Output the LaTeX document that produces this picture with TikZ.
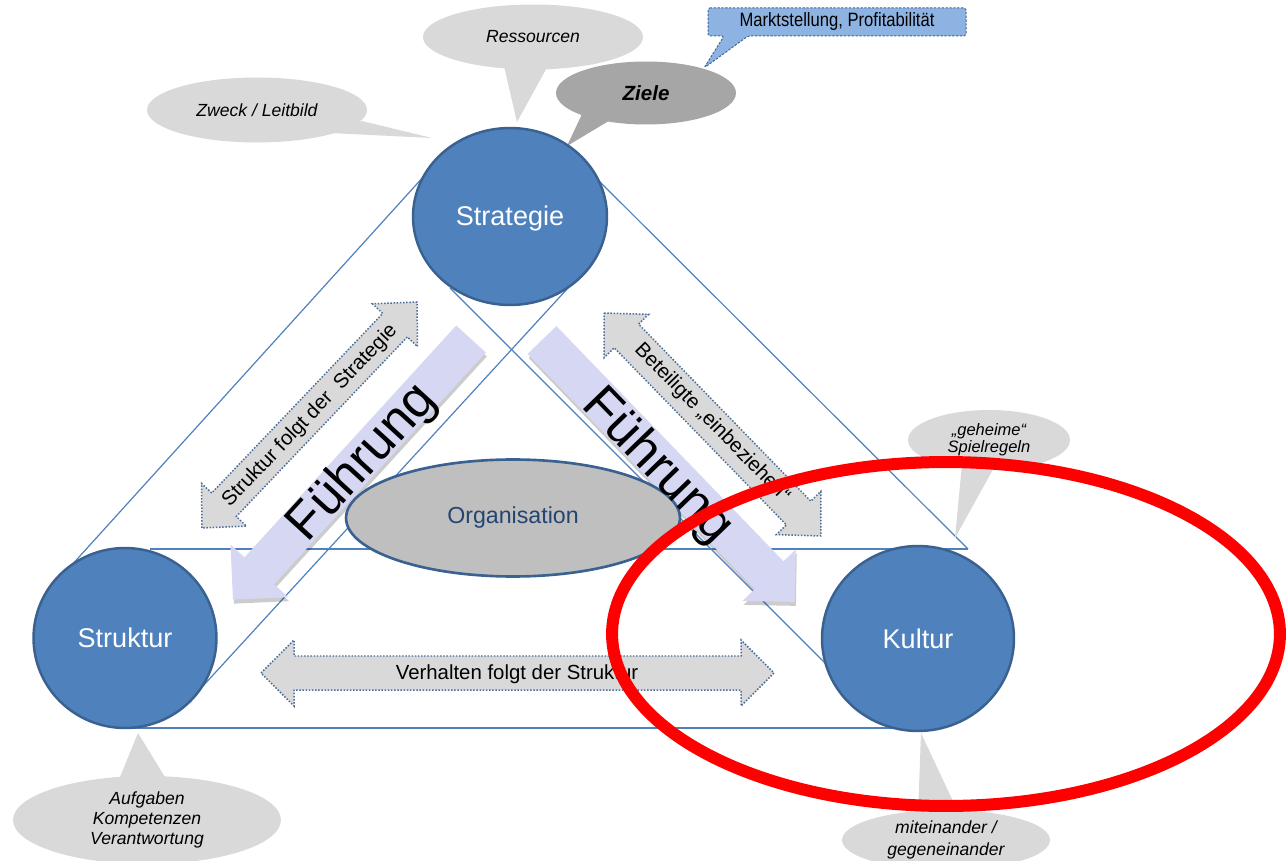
\documentclass[tikz,border=0pt]{standalone}
\usepackage{fontspec}
\setmainfont{Liberation Sans}
\newfontfamily\narrowsans[FakeStretch=0.86]{Liberation Sans}
\usetikzlibrary{shapes.geometric}
\definecolor{circfill}{HTML}{4F81BD}
\definecolor{circborder}{HTML}{3A6190}
\definecolor{blueline}{HTML}{4F81BD}
\definecolor{callgray}{HTML}{D9D9D9}
\definecolor{zielegray}{HTML}{A6A6A6}
\definecolor{marktblue}{HTML}{8DB3E2}
\definecolor{dashblue}{HTML}{41669A}
\definecolor{arrgray}{HTML}{D9D9D9}
\definecolor{dotblue}{HTML}{4A6C9B}
\definecolor{lavender}{HTML}{D6D7F3}
\definecolor{orgfill}{HTML}{BFBFBF}
\definecolor{orgtext}{HTML}{23456F}
\definecolor{markred}{HTML}{FF0000}
\newcommand\dblarrow[7]{%
  \begin{scope}[shift={(#1,#2)},rotate=#3]
    \path[grayarr] (-#4,0) -- ({-#4+#5},{-#6}) -- ({-#4+#5},{-#7}) -- ({#4-#5},{-#7}) -- ({#4-#5},{-#6}) -- (#4,0) -- ({#4-#5},#6) -- ({#4-#5},#7) -- ({-#4+#5},#7) -- ({-#4+#5},#6) -- cycle;
  \end{scope}}
\newcommand\leadarrow[7]{%
  \begin{scope}[shift={({#1+1},{#2+4})},rotate=#3]
    \path[shad] (0,-#7) -- ({#4-#5},-#7) -- ({#4-#5},-#6) -- (#4,0) -- ({#4-#5},#6) -- ({#4-#5},#7) -- (0,#7) -- cycle;
  \end{scope}
  \begin{scope}[shift={(#1,#2)},rotate=#3]
    \path[lav] (0,-#7) -- ({#4-#5},-#7) -- ({#4-#5},-#6) -- (#4,0) -- ({#4-#5},#6) -- ({#4-#5},#7) -- (0,#7) -- cycle;
  \end{scope}}
\begin{document}
\begin{tikzpicture}[x=0.02cm,y=-0.02cm,
  tri/.style={draw=blueline, line width=0.68pt},
  circ/.style={ellipse, draw=circborder, fill=circfill, line width=1.4pt, text=white, inner sep=0pt, font=\fontsize{15.4}{18}\selectfont},
  callfill/.style={fill=callgray},
  calltext/.style={ellipse, fill=callgray, inner sep=0pt, align=center, font=\fontsize{10}{11.3}\selectfont\itshape},
  grayarr/.style={fill=arrgray, draw=dotblue, line width=0.85pt, dash pattern=on 0.85pt off 0.95pt},
  lav/.style={fill=lavender},
  shad/.style={fill=black, opacity=0.2},
  arrtext/.style={font=\fontsize{11.6}{13}\selectfont, inner sep=0pt},
  fuehr/.style={font=\fontsize{29.5}{34}\selectfont, inner sep=0pt}
]
\useasboundingbox (0,0) rectangle (1288,861);
\fill[white] (0,0) rectangle (1288,861);

% ---- upper callouts
\fill[callfill] (330,133) -- (432,138) -- (362,121) -- cycle;
\node[calltext, minimum width=4.4cm, minimum height=1.3cm] (zweck) at (257,110) {Zweck / Leitbild};
\fill[callfill] (503,62) -- (517,122) -- (550,62) -- cycle;
\node[calltext, minimum width=4.4cm, minimum height=1.3cm] (ress) at (533,37) {Ressourcen};
\fill[zielegray] (583,112) -- (567,146) -- (612,119) -- cycle;
\node[ellipse, fill=zielegray, inner sep=0pt, minimum width=3.6cm, minimum height=1.26cm, font=\fontsize{11.7}{14}\selectfont\bfseries\itshape] (ziele) at (646,93) {Ziele};
\path[fill=marktblue, draw=dashblue, line width=0.57pt, dash pattern=on 1.3pt off 0.9pt, rounded corners=1pt]
  (708,8) -- (966,8) -- (966,36) -- (748,36) -- (704,68) -- (724,36) -- (708,36) -- cycle;
\node[font=\fontsize{11}{13}\selectfont\narrowsans, inner sep=0pt] (markt) at (837,22) {Marktstellung, Profitabilität};

% ---- triangle lines
\coordinate (a1) at (70,567);  \coordinate (a2) at (425,175);
\coordinate (b1) at (590,172); \coordinate (b2) at (968,549);
\coordinate (c1) at (150,549); \coordinate (c2) at (968,549);
\coordinate (d1) at (450,288); \coordinate (d2) at (850,688);
\coordinate (e1) at (568,288); \coordinate (e2) at (203,686);
\coordinate (g1) at (125,728); \coordinate (g2) at (918,728);
\draw[tri] (a1) -- (a2);
\draw[tri] (b1) -- (b2);
\draw[tri] (c1) -- (c2);
\draw[tri] (d1) -- (d2);
\draw[tri] (e1) -- (e2);
\draw[tri] (g1) -- (g2);

% ---- circles
\node[circ, minimum width=3.88cm, minimum height=3.54cm] (strat) at (510,216.5) {};
\node[text=white, font=\fontsize{15.4}{18}\selectfont, inner sep=0pt] (strattext) at (510,219) {Strategie};
\node[circ, minimum width=3.66cm, minimum height=3.6cm] (strukt) at (125,638) {Struktur};
\node[circ, minimum width=3.84cm, minimum height=3.7cm] (kultur) at (918,638.5) {Kultur};

% ---- grey double arrows
\dblarrow{309.5}{415}{46.4}{156}{32}{31}{17}
\node[arrtext, rotate=46.4] (sfs) at (310,416) {Struktur folgt der~ Strategie};
\dblarrow{712.5}{424.5}{-45.8}{155.5}{32}{31}{17}
\node[arrtext, rotate=-45.8] (bet) at (712,423) {Beteiligte „einbeziehen“};
\dblarrow{517.5}{673}{0}{256.5}{33}{33}{17}
\node[arrtext] (vfs) at (517,674) {Verhalten folgt der Struktur};

% ---- Fuehrung arrows
\leadarrow{471}{339}{-132.4}{353}{39}{39}{20}
\leadarrow{542}{340}{-46}{364}{37}{37}{20}

% ---- Organisation
\node[ellipse, draw=circborder, fill=orgfill, line width=1.5pt, inner sep=0pt, minimum width=6.68cm, minimum height=2.34cm, text=orgtext, font=\fontsize{13.2}{16}\selectfont] (org) at (513,518) {Organisation};

\node[fuehr, rotate=47.6] (f1) at (363,463) {Führung};
\node[fuehr, rotate=-46] (f2) at (657,467) {Führung};

% ---- lower callouts
\fill[callfill] (962,464) -- (955,538) -- (996,464) -- cycle;
\node[calltext, minimum width=3.24cm, minimum height=1.2cm, font=\fontsize{9.4}{9.7}\selectfont\itshape] (geh) at (989,440) {„geheime“\\Spielregeln};
\fill[callfill] (118,782) -- (138,733) -- (168,782) -- cycle;
\node[calltext, minimum width=5.36cm, minimum height=1.76cm] (aufg) at (147,820) {Aufgaben\\Kompetenzen\\Verantwortung};
\fill[callfill] (918,815) -- (921,733) -- (958,812) -- cycle;
\node[calltext, minimum width=4.16cm, minimum height=1.2cm, font=\fontsize{10}{12.5}\selectfont\itshape] (mit) at (946,840) {miteinander /\\gegeneinander};

% ---- red highlight
\node[ellipse, draw=markred, line width=0.24cm, minimum width=13.36cm, minimum height=6.88cm, inner sep=0pt] (mark) at (946,634) {};
\end{tikzpicture}
\end{document}
